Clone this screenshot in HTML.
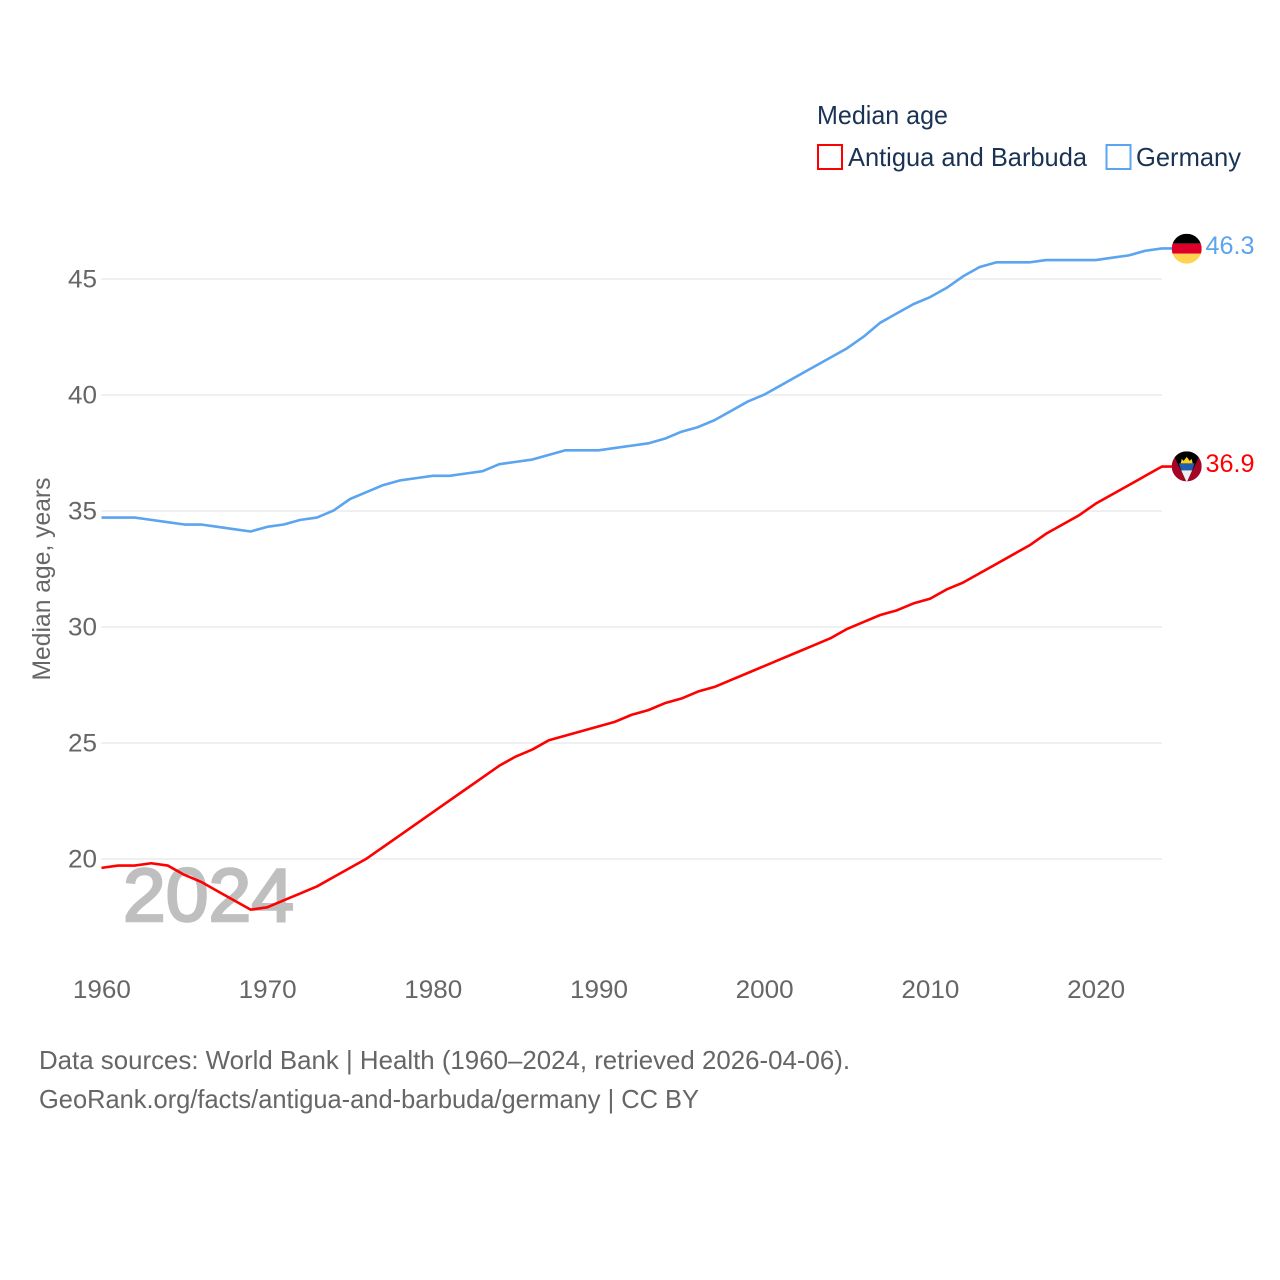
<!DOCTYPE html>
<html lang="en">
<head>
<meta charset="utf-8">
<title>Median age: Antigua and Barbuda vs Germany</title>
<style>
html,body{margin:0;padding:0;background:#fff;width:1280px;height:1280px;overflow:hidden}
svg{display:block}
text{font-family:"Liberation Sans",Arial,sans-serif}
</style>
</head>
<body>
<svg id="chart" width="1280" height="1280" viewBox="0 0 1280 1280" xmlns="http://www.w3.org/2000/svg">
  <defs>
    <clipPath id="clip-de"><circle cx="1186" cy="248" r="15"/></clipPath>
    <clipPath id="clip-ag"><circle cx="1186" cy="466" r="15"/></clipPath>
  </defs>
  <rect width="1280" height="1280" fill="#fff"/>

  <g id="grid"></g>
  <g id="ylabels"></g>
  <g id="xlabels"></g>

  <text x="-579" y="50" transform="rotate(-90)" text-anchor="middle" font-size="25" fill="#666" textLength="203" lengthAdjust="spacingAndGlyphs">Median age, years</text>

  <text x="123" y="921" font-size="75" font-weight="400" fill="#bfbfbf" stroke="#bfbfbf" stroke-width="2.5" textLength="171" lengthAdjust="spacingAndGlyphs">2024</text>

  <g id="series"></g>

  <g transform="translate(0.7,0.7)" clip-path="url(#clip-de)">
    <rect x="1171" y="233" width="30" height="10" fill="#000"/>
    <rect x="1171" y="243" width="30" height="10" fill="#dd0029"/>
    <rect x="1171" y="253" width="30" height="10" fill="#ffd34d"/>
  </g>
  <g transform="translate(0.7,0.4)" clip-path="url(#clip-ag)">
    <rect x="1171" y="451" width="30" height="30" fill="#a50525"/>
    <polygon points="1171,451 1201,451 1186,482" fill="#000"/>
    <polygon points="1178,463 1194,463 1191.5,470 1180.5,470" fill="#1f5fb0"/>
    <polygon points="1180.5,470 1191.5,470 1186,482" fill="#eeeeee"/>
    <polygon points="1180,463 1181,458.5 1183,460.5 1186,456.5 1189,460.5 1191,458.5 1192,463" fill="#fcd116"/>
  </g>

  <text x="1205.5" y="254" font-size="25" fill="#5ba4ef" textLength="49" lengthAdjust="spacingAndGlyphs">46.3</text>
  <text x="1205.5" y="472" font-size="25" fill="#ff0000" textLength="49" lengthAdjust="spacingAndGlyphs">36.9</text>

  <text x="817" y="124" font-size="26" fill="#1a3355" textLength="131" lengthAdjust="spacingAndGlyphs">Median age</text>
  <g>
    <rect x="818" y="145" width="24" height="24" fill="#fff" stroke="#ff0000" stroke-width="2"/>
    <text x="848" y="166" font-size="26" fill="#1a3355" textLength="239" lengthAdjust="spacingAndGlyphs">Antigua and Barbuda</text>
  </g>
  <g>
    <rect x="1106.5" y="145" width="24" height="24" fill="#fff" stroke="#5ba4ef" stroke-width="2"/>
    <text x="1136" y="166" font-size="26" fill="#1a3355" textLength="105" lengthAdjust="spacingAndGlyphs">Germany</text>
  </g>

  <text x="39" y="1069" font-size="26" fill="#666" textLength="811" lengthAdjust="spacingAndGlyphs">Data sources: World Bank | Health (1960–2024, retrieved 2026-04-06).</text>
  <a><text x="39" y="1108" font-size="26" fill="#666" textLength="660" lengthAdjust="spacingAndGlyphs">GeoRank.org/facts/antigua-and-barbuda/germany | CC BY</text></a>
</svg>
<script>
var startYear = 1960;
var germany = [34.7,34.7,34.7,34.6,34.5,34.4,34.4,34.3,34.2,34.1,34.3,34.4,34.6,34.7,35.0,35.5,35.8,36.1,36.3,36.4,36.5,36.5,36.6,36.7,37.0,37.1,37.2,37.4,37.6,37.6,37.6,37.7,37.8,37.9,38.1,38.4,38.6,38.9,39.3,39.7,40.0,40.4,40.8,41.2,41.6,42.0,42.5,43.1,43.5,43.9,44.2,44.6,45.1,45.5,45.7,45.7,45.7,45.8,45.8,45.8,45.8,45.9,46.0,46.2,46.3];
var antigua = [19.6,19.7,19.7,19.8,19.7,19.3,19.0,18.6,18.2,17.8,17.9,18.2,18.5,18.8,19.2,19.6,20.0,20.5,21.0,21.5,22.0,22.5,23.0,23.5,24.0,24.4,24.7,25.1,25.3,25.5,25.7,25.9,26.2,26.4,26.7,26.9,27.2,27.4,27.7,28.0,28.3,28.6,28.9,29.2,29.5,29.9,30.2,30.5,30.7,31.0,31.2,31.6,31.9,32.3,32.7,33.1,33.5,34.0,34.4,34.8,35.3,35.7,36.1,36.5,36.9];
var yTicks = [20,25,30,35,40,45];
var xTicks = [1960,1970,1980,1990,2000,2010,2020];

var NS = 'http://www.w3.org/2000/svg';
function xScale(year){ return 101.5 + (year - 1960) * 16.57; }
function yScale(v){ return 859 - (v - 20) * 23.2; }

var grid = document.getElementById('grid');
var ylabels = document.getElementById('ylabels');
var xlabels = document.getElementById('xlabels');
var series = document.getElementById('series');

yTicks.forEach(function(t){
  var l = document.createElementNS(NS,'line');
  l.setAttribute('x1', 101);
  l.setAttribute('x2', 1162);
  l.setAttribute('y1', yScale(t));
  l.setAttribute('y2', yScale(t));
  l.setAttribute('stroke', '#ebebeb');
  l.setAttribute('stroke-width', '1.5');
  
  
  grid.appendChild(l);

  var tx = document.createElementNS(NS,'text');
  tx.setAttribute('x', 97);
  tx.setAttribute('y', yScale(t) + 8.4);
  tx.setAttribute('text-anchor', 'end');
  tx.setAttribute('font-size', '25');
  tx.setAttribute('fill', '#666');
  tx.setAttribute('textLength', '29');
  tx.setAttribute('lengthAdjust', 'spacingAndGlyphs');
  tx.textContent = t;
  
  
  ylabels.appendChild(tx);
});

xTicks.forEach(function(t){
  var tx = document.createElementNS(NS,'text');
  tx.setAttribute('x', xScale(t) + 0.4);
  tx.setAttribute('y', 998);
  tx.setAttribute('text-anchor', 'middle');
  tx.setAttribute('font-size', '25');
  tx.setAttribute('fill', '#666');
  tx.setAttribute('textLength', '58');
  tx.setAttribute('lengthAdjust', 'spacingAndGlyphs');
  tx.textContent = t;
  
  
  xlabels.appendChild(tx);
});

function linePoints(values){
  var pts = values.map(function(v, i){
    return xScale(startYear + i).toFixed(2) + ',' + (yScale(v) - 0.4).toFixed(2);
  });
  var last = values[values.length - 1];
  pts.push((xScale(startYear + values.length - 1) + 10).toFixed(2) + ',' + (yScale(last) - 0.4).toFixed(2));
  return pts.join(' ');
}

var germanyLine = document.createElementNS(NS,'polyline');
germanyLine.setAttribute('points', linePoints(germany));
germanyLine.setAttribute('fill', 'none');
germanyLine.setAttribute('stroke', '#5ba4ef');
germanyLine.setAttribute('stroke-width', '2.6');
germanyLine.setAttribute('stroke-linejoin', 'round');


series.appendChild(germanyLine);

var antiguaLine = document.createElementNS(NS,'polyline');
antiguaLine.setAttribute('points', linePoints(antigua));
antiguaLine.setAttribute('fill', 'none');
antiguaLine.setAttribute('stroke', '#ff0000');
antiguaLine.setAttribute('stroke-width', '2.6');
antiguaLine.setAttribute('stroke-linejoin', 'round');


series.appendChild(antiguaLine);
</script>
</body>
</html>
